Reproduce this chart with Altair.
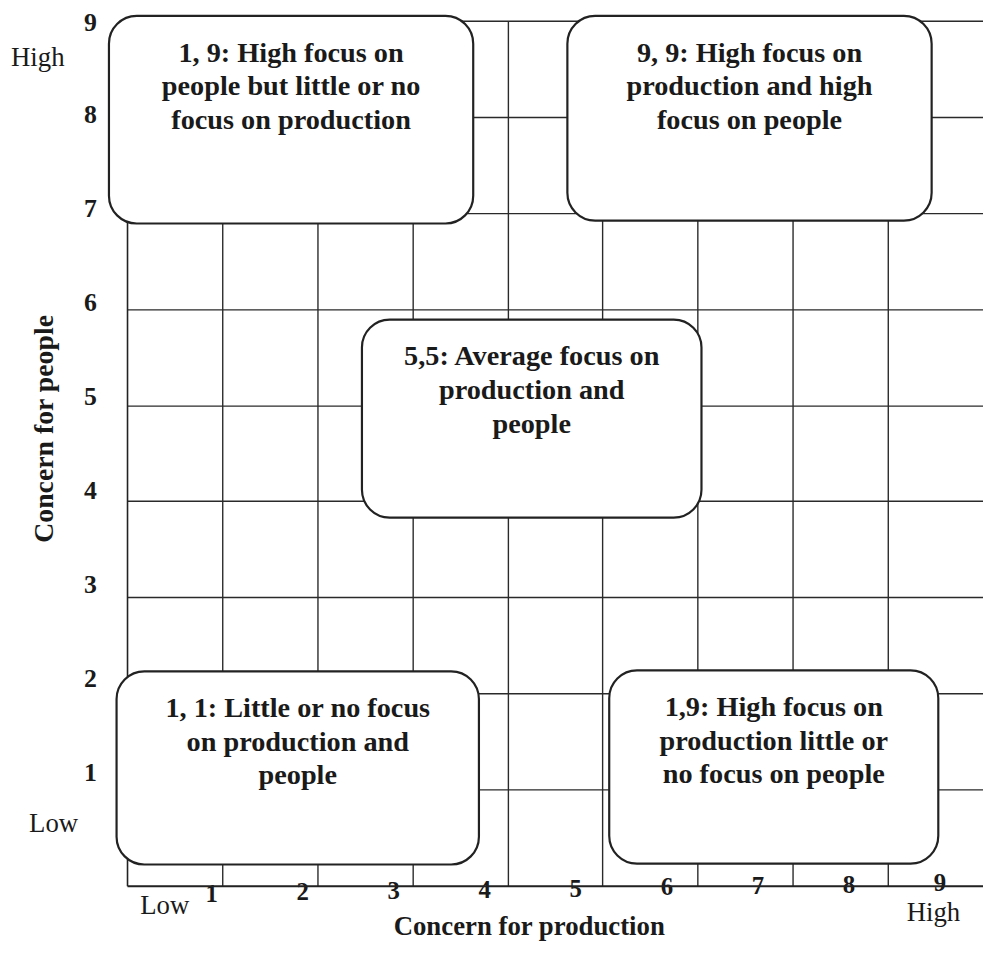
import altair as alt
import pandas as pd

SERIF = "Liberation Serif"
INK = "#1a1a1a"

# ---- data ----
y_ticks = [1, 2, 3, 4, 5, 6, 7, 8, 9]
x_ticks = [1, 2, 3, 4, 5, 6, 7, 8, 9]

box_labels = [
    "1, 9: High focus on\npeople but little or no\nfocus on production",
    "9, 9: High focus on\nproduction and high\nfocus on people",
    "5,5: Average focus on\nproduction and\npeople",
    "1, 1: Little or no focus\non production and\npeople",
    "1,9: High focus on\nproduction little or\nno focus on people",
]
box_x1 = [-0.19, 4.63, 2.47, -0.11, 5.07]
box_x2 = [3.64, 8.46, 6.04, 3.70, 8.53]
box_y1 = [6.89, 6.92, 3.83, 0.22, 0.23]
box_y2 = [9.05, 9.05, 5.89, 2.23, 2.24]

end_labels = ["Low", "High"]
end_values = [0, 9]

x_title = "Concern for production"
y_title = "Concern for people"

boxes = pd.DataFrame({"label": box_labels, "x1": box_x1, "x2": box_x2,
                      "y1": box_y1, "y2": box_y2})

W, H = 863, 872
xs = alt.Scale(domain=[0, 9], nice=False, zero=False)
ys = alt.Scale(domain=[0, 9], nice=False, zero=False)

x_axis = alt.Axis(
    values=x_ticks, format="d", grid=True, ticks=False, domain=True,
    domainColor="#222", domainWidth=2, gridColor="#2a2a2a", gridWidth=1.4,
    gridOpacity={"expr": "datum.value == 9 ? 0 : 1"},
    labelFont=SERIF, labelFontSize=25, labelFontWeight="bold", labelColor=INK,
    labelPadding={"expr": "9 - 1.3*datum.value"},
    labelBaseline="middle", labelFlush=False, labelOverlap=False,
    labelOffset={"expr": "-7 - 4.1*datum.value"},
    title=x_title, titleFont=SERIF, titleFontSize=27, titleFontWeight="bold",
    titleColor=INK, titleX=405, titleY=49, titleBaseline="alphabetic",
    titleAlign="center",
)
y_axis = alt.Axis(
    values=y_ticks, format="d", grid=True, ticks=False, domain=True,
    domainColor="#222", domainWidth=1.6, gridColor="#2a2a2a", gridWidth=1.4,
    labelFont=SERIF, labelFontSize=26, labelFontWeight="bold", labelColor=INK,
    labelPadding=31, labelBaseline="middle", labelAlign="right",
    labelFlush=False, labelOverlap=False,
    labelOffset={"expr": "-2.2*(9 - datum.value) + (datum.value == 9 ? 2 : 0)"},
    title=y_title, titleFont=SERIF, titleFontSize=28, titleFontWeight="bold",
    titleColor=INK, titleX=-75, titleY=411, titleBaseline="alphabetic",
    titleAlign="center", titleAngle=270,
)

rects = alt.Chart(boxes).mark_rect(
    fill="white", stroke="#222", strokeWidth=2.2, cornerRadius=28
).encode(
    x=alt.X("x1:Q", scale=xs, axis=x_axis),
    x2="x2:Q",
    y=alt.Y("y1:Q", scale=ys, axis=y_axis),
    y2="y2:Q",
)

texts = alt.Chart(boxes).transform_calculate(
    xc="(datum.x1 + datum.x2) / 2"
).mark_text(
    font=SERIF, fontSize=28.5, fontWeight="bold", color=INK,
    align="center", baseline="alphabetic", lineBreak="\n", lineHeight=34, dy=46,
).encode(
    x=alt.X("xc:Q", scale=xs),
    y=alt.Y("y2:Q", scale=ys),
    text="label:N",
)

layers = [rects, texts]

# end labels on the x axis (Low / High)
x_end_style = [dict(dx=38, dy=29), dict(dx=-50, dy=36)]
for lab, val, st in zip(end_labels, end_values, x_end_style):
    df = pd.DataFrame({"label": [lab], "value": [val]})
    layers.append(
        alt.Chart(df).mark_text(font=SERIF, fontSize=27, color=INK,
                                align="center", baseline="alphabetic", **st)
        .encode(x=alt.X("value:Q", scale=xs), y=alt.value(H), text="label:N")
    )

# end labels on the y axis (Low / High)
y_end_style = [dict(dx=-74, dy=-54), dict(dx=-90, dy=46)]
for lab, val, st in zip(end_labels, end_values, y_end_style):
    df = pd.DataFrame({"label": [lab], "value": [val]})
    layers.append(
        alt.Chart(df).mark_text(font=SERIF, fontSize=27, color=INK,
                                align="center", baseline="alphabetic", **st)
        .encode(y=alt.Y("value:Q", scale=ys), x=alt.value(0), text="label:N")
    )

chart = alt.layer(*layers).properties(
    width=W, height=H, autosize="none",
    padding={"left": 120, "top": 9, "right": 0, "bottom": 56},
).configure_view(stroke=None).configure(background="white")

chart.save("out.html", embed_options={"renderer": "svg", "actions": False})
